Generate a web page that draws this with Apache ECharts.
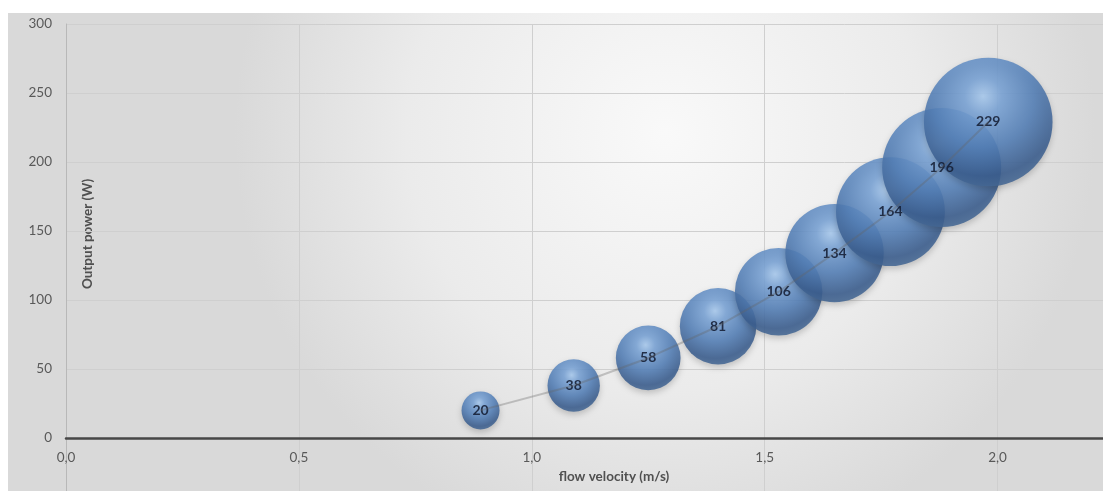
<!DOCTYPE html>
<html>
<head>
<meta charset="utf-8">
<script src="https://cdn.jsdelivr.net/npm/echarts@6/dist/echarts.min.js"></script>
<style>
  html, body { margin: 0; padding: 0; background: #ffffff; }
  #power { position: absolute; left: 8px; top: 13px; width: 1095px; height: 478px; }
</style>
</head>
<body>
<div id="power"></div>
<script>
// data
var velocity = [0.89, 1.09, 1.25, 1.40, 1.53, 1.65, 1.77, 1.88, 1.98];
var power = [20, 38, 58, 81, 106, 134, 164, 196, 229];
var bubbleSize = [20, 38, 58, 81, 106, 134, 164, 196, 229];

var bubbles = velocity.map(function (v, i) { return [v, power[i], bubbleSize[i]]; });
var path = velocity.map(function (v, i) { return [v, power[i]]; });

var font = 'Lato, "Open Sans", sans-serif';
var decimal = function (v) { return v.toFixed(1).replace('.', ','); };

var myChart = echarts.init(document.getElementById('power'));

var option = {
    animation: false,
    backgroundColor: {
        type: 'radial', x: 0.6, y: 0.25, r: 0.9,
        colorStops: [
            { offset: 0, color: '#f9f9f9' },
            { offset: 0.6, color: '#ebebeb' },
            { offset: 1, color: '#d9d9d9' }
        ]
    },
    // grid 0: full plot area (runs past the bottom edge), grid 1: the part above zero
    grid: [
        { left: 58, top: 11, width: 1048, height: 483, containLabel: false, outerBoundsMode: 'none' },
        { left: 58, top: 11, width: 1048, height: 414, containLabel: false, outerBoundsMode: 'none' }
    ],
    xAxis: [
        {
            type: 'value', gridIndex: 0,
            min: 0, max: 2.25, interval: 0.5,
            axisLine: { show: false },
            axisTick: { show: false },
            axisLabel: { show: false },
            splitLine: { show: true, lineStyle: { color: '#cfcfcf', width: 1 } }
        },
        {
            type: 'value', gridIndex: 1, position: 'bottom',
            min: 0, max: 2.25, interval: 0.5,
            axisLine: { show: true, onZero: false, lineStyle: { color: '#474747', width: 2.5 } },
            axisTick: { show: false },
            axisLabel: {
                color: '#595959', fontSize: 13.5, fontFamily: font, margin: 13,
                showMaxLabel: false, formatter: decimal
            },
            splitLine: { show: false }
        }
    ],
    yAxis: [
        {
            type: 'value', gridIndex: 0,
            min: -50, max: 300, interval: 50,
            axisLine: { show: true, onZero: false, lineStyle: { color: '#b8b8b8', width: 1 } },
            axisTick: { show: false },
            axisLabel: {
                color: '#595959', fontSize: 13.5, fontFamily: font, margin: 14,
                showMinLabel: false
            },
            splitLine: { show: true, lineStyle: { color: '#cfcfcf', width: 1 } }
        },
        {
            type: 'value', gridIndex: 1,
            min: 0, max: 300, interval: 50,
            show: false
        }
    ],
    graphic: [
        {
            type: 'text', x: 80, y: 221, rotation: Math.PI / 2,
            style: {
                text: 'Output power (W)', fill: '#505050',
                font: 'bold 13.5px ' + font, align: 'center', verticalAlign: 'middle'
            }
        },
        {
            type: 'text', x: 606, y: 464,
            style: {
                text: 'flow velocity (m/s)', fill: '#505050',
                font: 'bold 13.5px ' + font, align: 'center', verticalAlign: 'middle'
            }
        }
    ],
    series: [
        {
            name: 'power',
            type: 'scatter',
            xAxisIndex: 1, yAxisIndex: 1,
            data: bubbles,
            symbolSize: function (d) { return Math.sqrt(d[2]) * 8.5; },
            itemStyle: {
                opacity: 0.87,
                color: {
                    type: 'radial', x: 0.46, y: 0.3, r: 0.72,
                    colorStops: [
                        { offset: 0, color: '#a9cbf0' },
                        { offset: 0.2, color: '#7aa4d7' },
                        { offset: 0.55, color: '#5480b8' },
                        { offset: 0.86, color: '#3a5d8e' },
                        { offset: 1, color: '#466995' }
                    ]
                },
                shadowBlur: 6, shadowColor: 'rgba(0,0,0,0.22)', shadowOffsetY: 3
            },
            label: {
                show: true, position: 'inside',
                formatter: function (p) { return p.value[1]; },
                color: '#141d33', fontSize: 14, fontWeight: 'bold', fontFamily: font
            },
            emphasis: { disabled: true },
            z: 2
        },
        {
            name: 'trend',
            type: 'line',
            xAxisIndex: 1, yAxisIndex: 1,
            data: path,
            symbol: 'none',
            lineStyle: { color: 'rgba(100,100,100,0.33)', width: 2 },
            emphasis: { disabled: true },
            silent: true,
            z: 3
        }
    ]
};

myChart.setOption(option);
</script>
</body>
</html>
